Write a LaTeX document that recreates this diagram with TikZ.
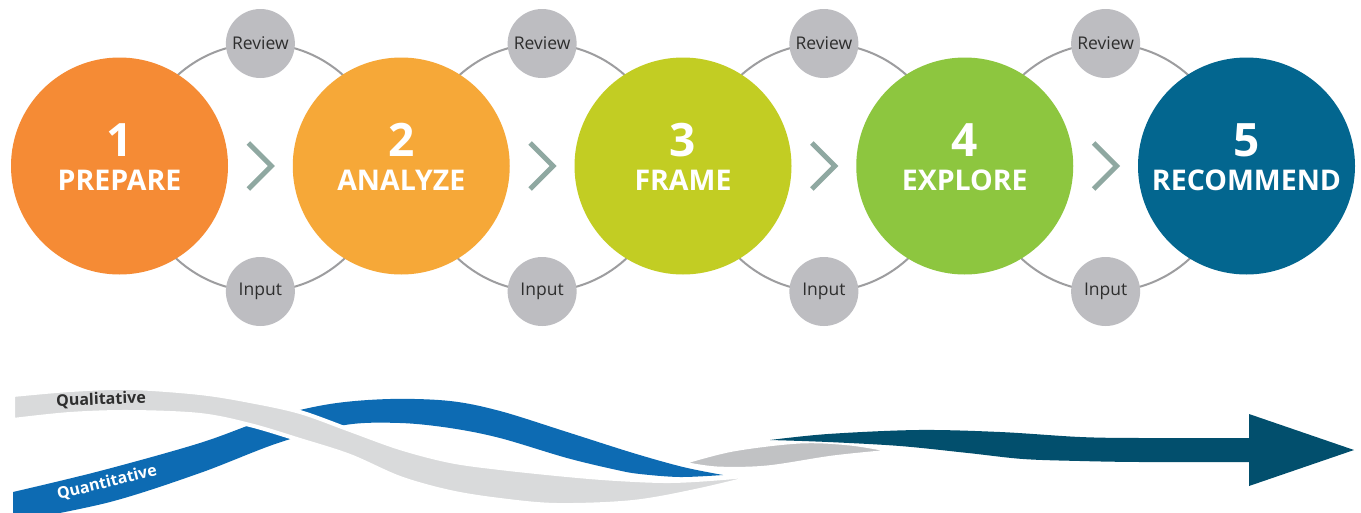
\documentclass[tikz,border=0pt]{standalone}
\usepackage{fontspec}
\setmainfont{Open Sans}
\usetikzlibrary{calc}
\definecolor{stageA}{HTML}{F58B35}
\definecolor{stageB}{HTML}{F6A838}
\definecolor{stageC}{HTML}{C2CD23}
\definecolor{stageD}{HTML}{8DC63F}
\definecolor{stageE}{HTML}{03668F}
\definecolor{bubblegray}{HTML}{BDBDC1}
\definecolor{ringgray}{HTML}{9D9D9F}
\definecolor{chevgray}{HTML}{8FA8A1}
\definecolor{darktext}{HTML}{2E2E2E}
\definecolor{qualgray}{HTML}{D9DADB}
\definecolor{quantblue}{HTML}{0D6BB3}
\definecolor{lensgray}{HTML}{C1C2C4}
\definecolor{teal}{HTML}{024F6D}
\begin{document}
\begin{tikzpicture}[x=1pt,y=-1pt,
  stage/.style={circle, minimum size=217pt, inner sep=0pt},
  bubble/.style={circle, fill=bubblegray, minimum size=69pt, inner sep=0pt,
    text=darktext, font=\fontsize{17.5}{20}\selectfont},
  ring/.style={draw=ringgray, line width=2pt},
  chev/.style={draw=chevgray, line width=5pt, miter limit=10},
  num/.style={text=white, anchor=base, font=\bfseries\fontsize{46}{46}\selectfont},
  lbl/.style={text=white, anchor=base, font=\bfseries\fontsize{28.5}{30}\selectfont},
  band/.style={draw=white, line width=4pt, line join=round}]
\fill[white] (0,0) rectangle (1361,512);
\useasboundingbox (0,0) rectangle (1361,512);

% stage centres
\coordinate (p1) at (119.5,166);
\coordinate (p2) at (401.25,166);
\coordinate (p3) at (683,166);
\coordinate (p4) at (964.75,166);
\coordinate (p5) at (1246.5,166);

% linking rings with review / input bubbles and chevrons
\foreach \a/\b/\k in {p1/p2/1, p2/p3/2, p3/p4/3, p4/p5/4} {
  \coordinate (m\k) at ($(\a)!0.5!(\b)+(0,1.5)$);
  \draw[ring] (m\k) circle[radius=124pt];
  \draw[chev] ($(m\k)+(-12,-24.5)$) -- ($(m\k)+(11,-1.5)$) -- ($(m\k)+(-12,21.5)$);
}

% stage circles
\node[stage, fill=stageA] (c1) at (p1) {};
\node[stage, fill=stageB] (c2) at (p2) {};
\node[stage, fill=stageC] (c3) at (p3) {};
\node[stage, fill=stageD] (c4) at (p4) {};
\node[stage, fill=stageE] (c5) at (p5) {};

\foreach \k/\t in {1/PREPARE, 2/ANALYZE, 3/FRAME, 4/EXPLORE, 5/RECOMMEND} {
  \node[num] (n\k) at ($(p\k)+(0,-10)$) {\k};
  \node[lbl] (l\k) at ($(p\k)+(0,24)$) {\t};
}

% review and input bubbles
\foreach \k in {1,2,3,4} {
  \node[bubble] (r\k) at ($(m\k)+(0,-124)$) {Review};
  \node[bubble] (i\k) at ($(m\k)+(0,124)$) {Input};
}

% qualitative / quantitative ribbons
\begin{scope}
\clip (0,0) rectangle (1361,512);
\fill[quantblue] plot[smooth, tension=0.55] coordinates {
  (13,492) (100,471) (200,443) (270,418) (330,404) (390,399) (450,401)
  (500,411) (567,432) (633,453) (683,467) (723,475)}
  -- plot[smooth, tension=0.55] coordinates {
  (723,475) (680,477) (640,474) (617,470) (567,458) (500,438) (450,428)
  (400,423) (345,425) (278,443) (200,473) (110,502) (13,522)}
  -- cycle;
\filldraw[band, fill=qualgray] plot[smooth, tension=0.55] coordinates {
  (13,395) (70,390) (130,388) (200,393) (250,401) (300,412) (350,430)
  (400,448) (450,461) (500,468) (567,475) (617,479) (670,481) (723,478) (770,473)}
  -- plot[smooth, tension=0.55] coordinates {
  (770,473) (700,490) (633,502) (557,505) (500,500) (450,492) (400,478)
  (350,456) (300,440) (250,425) (200,415) (130,412) (70,414) (13,420)}
  -- cycle;
\filldraw[band, line width=3pt, fill=lensgray] plot[smooth, tension=0.55] coordinates {
  (683,463) (733,450) (800,442) (850,444) (892,451)}
  -- plot[smooth, tension=0.55] coordinates {
  (892,451) (833,457) (767,467) (717,468) (683,463)}
  -- cycle;
\fill[teal] plot[smooth, tension=0.55] coordinates {
  (770,440) (828,434) (918,430) (1000,432) (1080,437) (1140,438) (1249,438)}
  -- (1249,414) -- (1354,450) -- (1249,486) -- (1249,462)
  -- plot[smooth, tension=0.55] coordinates {
  (1249,462) (1140,462) (1080,461) (1023,459) (968,453) (900,446) (828,442) (770,440)}
  -- cycle;
\end{scope}

\node[text=darktext, font=\bfseries\fontsize{16}{18}\selectfont, rotate=2] (qual) at (101,400) {Qualitative};
\node[text=white, font=\bfseries\fontsize{16}{18}\selectfont, rotate=14] (quant) at (107,483) {Quantitative};
\end{tikzpicture}
\end{document}
